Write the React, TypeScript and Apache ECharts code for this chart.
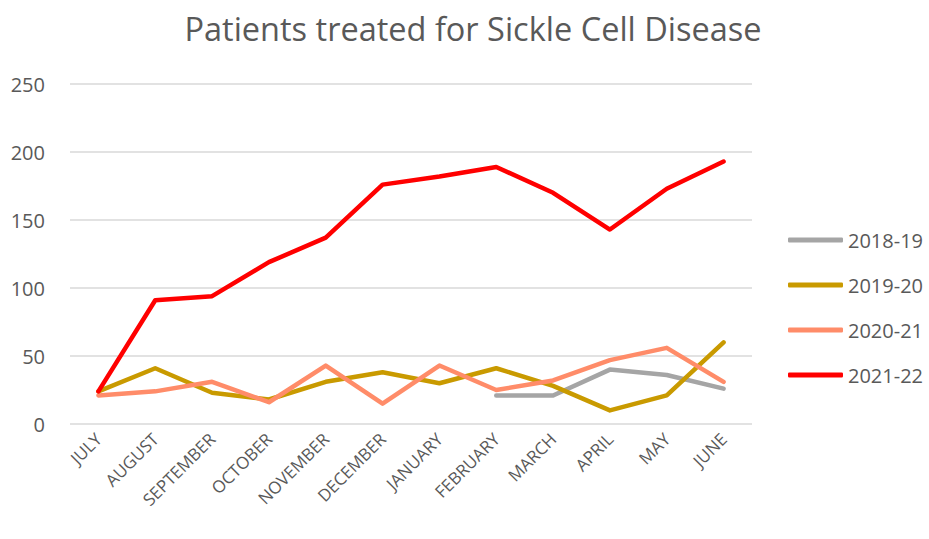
import React, { useEffect, useRef } from "react";
import * as echarts from "echarts";

const months = ["JULY", "AUGUST", "SEPTEMBER", "OCTOBER", "NOVEMBER", "DECEMBER", "JANUARY", "FEBRUARY", "MARCH", "APRIL", "MAY", "JUNE"];
const s2018: (number | null)[] = [null, null, null, null, null, null, null, 21, 21, 40, 36, 26];
const s2019 = [24, 41, 23, 18, 31, 38, 30, 41, 28, 10, 21, 60];
const s2020 = [21, 24, 31, 16, 43, 15, 43, 25, 32, 47, 56, 31];
const s2021 = [24, 91, 94, 119, 137, 176, 182, 189, 170, 143, 173, 193];
const seriesNames = ["2018-19", "2019-20", "2020-21", "2021-22"];
const colors = ["#A5A5A5", "#C99A00", "#FF8C69", "#FF0000"];

export default function App() {
  const ref = useRef<HTMLDivElement>(null);
  useEffect(() => {
    document.body.style.margin = "0";
    if (!ref.current) return;
    const chart = echarts.init(ref.current, null, { renderer: "svg" });
    const font = "Open Sans";
    const data = [s2018, s2019, s2020, s2021];
    chart.setOption({
      animation: false,
      backgroundColor: "#ffffff",
      title: {
        text: "Patients treated for Sickle Cell Disease",
        left: 468,
        textAlign: "center",
        top: 7,
        textStyle: { fontFamily: font, fontSize: 32.5, fontWeight: "normal", color: "#595959" },
      },
      grid: { left: 70, right: 177, top: 84, bottom: 115, containLabel: false },
      legend: {
        orient: "vertical",
        left: 783,
        top: 225,
        icon: "roundRect",
        itemWidth: 55,
        itemHeight: 5,
        itemGap: 25,
        data: seriesNames,
        textStyle: { fontFamily: font, fontSize: 20, color: "#595959", lineHeight: 20 },
      },
      xAxis: {
        type: "category",
        data: months,
        boundaryGap: true,
        axisLine: { show: false },
        axisTick: { show: false },
        axisLabel: { rotate: 45, fontFamily: font, fontSize: 17, color: "#595959", margin: 12, interval: 0 },
      },
      yAxis: {
        type: "value",
        min: 0,
        max: 250,
        interval: 50,
        axisLabel: { fontFamily: font, fontSize: 20, color: "#595959", margin: 25 },
        splitLine: { lineStyle: { color: "#D9D9D9", width: 1.5 } },
      },
      series: data.map((d, i) => ({
        name: seriesNames[i],
        type: "line",
        data: d,
        symbol: "none",
        color: colors[i],
        lineStyle: { width: 4.5, color: colors[i], cap: "round", join: "round" },
        z: 2 + i,
      })),
    });
    return () => chart.dispose();
  }, []);
  return <div ref={ref} style={{ width: 929, height: 539 }} />;
}
